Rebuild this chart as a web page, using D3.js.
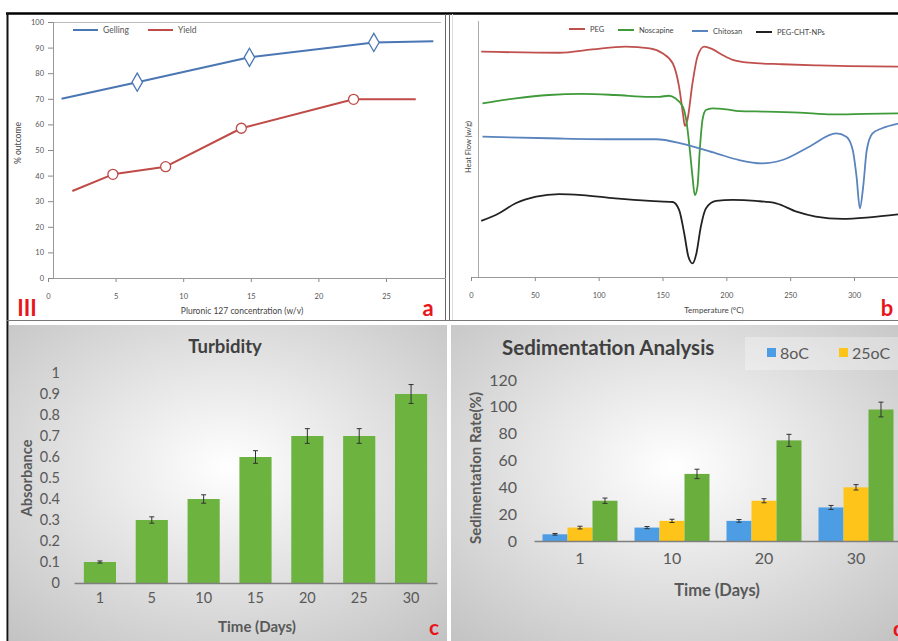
<!DOCTYPE html>
<html><head><meta charset="utf-8">
<script src="https://cdn.jsdelivr.net/npm/d3@7"></script>
<style>
body{margin:0;background:#fff;}
svg{display:block;font-family:Lato,"Open Sans",sans-serif;}
</style></head><body>
<script>
// ---- panel a : gelling / yield vs pluronic concentration
const gelX = [1.0, 6.6, 14.9, 24.1, 28.5];
const gelY = [70, 76.5, 86.2, 92, 92.5];
const yieldX = [1.8, 4.8, 8.7, 14.3, 22.6, 27.2];
const yieldY = [34, 40.5, 43.5, 58.5, 69.8, 69.8];
const concTicks = [0, 5, 10, 15, 20, 25];

// ---- panel b : DSC thermograms (arbitrary heat flow units)
const pegT = [8, 69, 95, 121, 140, 150, 158, 163, 166, 167.5, 169.5, 173.5, 177.4, 182.6, 189, 197, 205, 218, 244, 270, 296, 335];
const pegH = [88, 87.6, 88.9, 90, 89.3, 87.4, 83.5, 74.3, 63.9, 59, 61.3, 75.7, 86.1, 90, 89, 86.7, 84.8, 83.7, 83.1, 82.7, 82.4, 82.2];
const nosT = [9, 35, 61, 87, 113, 140, 147, 155, 160, 166, 169, 171.4, 173.5, 175.3, 177.4, 179.2, 181.3, 184, 189, 200, 210, 231, 257, 283, 309, 335];
const nosH = [67.8, 69.8, 71.1, 71.5, 71.1, 70.4, 70.4, 70.8, 69.8, 66.5, 60, 49.6, 39.2, 32, 35.3, 49.6, 61.3, 65.2, 65.9, 65.5, 64.8, 64.6, 64.2, 63.5, 63.7, 63.9];
const chiT = [9, 61, 113, 145, 166, 192, 210, 228, 244, 265, 286, 294, 299, 302, 304.6, 307.2, 310, 314.5, 322, 335];
const chiH = [54.8, 54.2, 53.8, 53.8, 52, 48.3, 45.7, 44.4, 45.7, 50.9, 56.1, 54.8, 49.6, 39.2, 26.8, 35.3, 49.6, 56.1, 58.1, 60];
const npT = [8, 22, 35, 51, 69, 87, 113, 140, 158, 163, 167, 170.3, 173.5, 176.6, 180, 184, 192, 205, 223, 239, 255, 270, 291, 312, 335];
const npH = [21.9, 24.9, 28.8, 31.4, 32.4, 32, 30.7, 29.7, 29.3, 26.2, 17.1, 7.9, 5.3, 9.3, 19.6, 26.8, 29.7, 30.1, 29.7, 28.8, 25.5, 23.6, 22.7, 23.3, 24.5];
const dscNames = ["PEG", "Noscapine", "Chitosan", "PEG-CHT-NPs"];
const tempTicks = [0, 50, 100, 150, 200, 250, 300, 350];

// ---- panel c : turbidity
const turbDays = ["1", "5", "10", "15", "20", "25", "30"];
const turbAbs = [0.1, 0.3, 0.4, 0.6, 0.7, 0.7, 0.9];
const turbErr = [0.005, 0.015, 0.02, 0.03, 0.035, 0.035, 0.045];
const turbTicks = [0, 0.1, 0.2, 0.3, 0.4, 0.5, 0.6, 0.7, 0.8, 0.9, 1];

// ---- panel d : sedimentation
const sedDays = ["1", "10", "20", "30"];
const sedNames = ["8oC", "25oC", "37oC"];
const sed8 = [5, 10, 15, 25];
const sed25 = [10, 15, 30, 40];
const sed37 = [30, 50, 75, 98];
const err8 = [0.6, 0.8, 1, 1.5];
const err25 = [1, 1.2, 1.5, 2];
const err37 = [2, 3.5, 4.5, 5.5];
const sedTicks = [0, 20, 40, 60, 80, 100, 120];

const W = 898, H = 641;
const svg = d3.select("body").append("svg").attr("width", W).attr("height", H);
svg.append("rect").attr("width", W).attr("height", H).attr("fill", "#fff");

// background gradient for lower panels
const defs = svg.append("defs");
const rg = defs.append("radialGradient").attr("id", "bg").attr("cx", "50%").attr("cy", "45%").attr("r", "75%");
rg.append("stop").attr("offset", "0%").attr("stop-color", "#ffffff");
rg.append("stop").attr("offset", "100%").attr("stop-color", "#c2c2c2");

svg.append("rect").attr("x", 9).attr("y", 325).attr("width", 438).attr("height", 316).attr("fill", "url(#bg)");
svg.append("rect").attr("x", 451).attr("y", 325).attr("width", 447).attr("height", 316).attr("fill", "url(#bg)");

// frame lines
svg.append("line").attr("x1", 6).attr("x2", W).attr("y1", 13.5).attr("y2", 13.5).attr("stroke", "#000").attr("stroke-width", 2.5);
svg.append("line").attr("x1", 7.5).attr("x2", 7.5).attr("y1", 13).attr("y2", H).attr("stroke", "#111").attr("stroke-width", 2);
svg.append("line").attr("x1", 7).attr("x2", W).attr("y1", 320.5).attr("y2", 320.5).attr("stroke", "#777").attr("stroke-width", 1);
svg.append("line").attr("x1", 445.5).attr("x2", 445.5).attr("y1", 14).attr("y2", 320).attr("stroke", "#666");
svg.append("line").attr("x1", 449.5).attr("x2", 449.5).attr("y1", 14).attr("y2", 320).attr("stroke", "#666");
svg.append("line").attr("x1", 452.5).attr("x2", 452.5).attr("y1", 14).attr("y2", 320).attr("stroke", "#ddd");

function label(g, x, y, txt, size, opts = {}) {
  const t = g.append("text").attr("x", x).attr("y", y).text(txt)
    .attr("font-size", size).attr("fill", opts.fill || "#444")
    .attr("text-anchor", opts.anchor || "middle")
    .attr("font-weight", opts.bold ? "bold" : "normal");
  if (opts.rotate) t.attr("transform", `rotate(-90,${x},${y})`);
  return t;
}

// ===== panel a
{
  const g = svg.append("g");
  const x = d3.scaleLinear().domain([0, 25]).range([48, 386]);
  const y = d3.scaleLinear().domain([0, 100]).range([278, 22]);

  g.append("line").attr("x1", 53).attr("x2", 441).attr("y1", 22.5).attr("y2", 22.5).attr("stroke", "#bbb");
  g.append("line").attr("x1", 53.5).attr("x2", 53.5).attr("y1", 22).attr("y2", 278).attr("stroke", "#999");

  const ya = g.append("g").attr("transform", "translate(53,0)")
    .call(d3.axisLeft(y).tickValues(d3.range(0, 101, 10)).tickSize(5).tickPadding(4));
  ya.select(".domain").remove();
  ya.selectAll("line").attr("stroke", "#888");
  ya.selectAll("text").attr("font-size", 7.5).attr("fill", "#555").attr("font-family", "Lato");

  const xa = g.append("g").attr("transform", "translate(0,278)")
    .call(d3.axisBottom(x).tickValues(concTicks).tickSize(4).tickPadding(12));
  xa.select(".domain").remove();
  xa.selectAll("line").attr("stroke", "#888");
  xa.selectAll("text").attr("font-size", 7.5).attr("fill", "#555").attr("font-family", "Lato");
  g.append("line").attr("x1", 53).attr("x2", 446).attr("y1", 278.5).attr("y2", 278.5).attr("stroke", "#999");

  const line = d3.line().x(d => x(d[0])).y(d => y(d[1]));
  const gel = gelX.map((v, i) => [v, gelY[i]]);
  const yld = yieldX.map((v, i) => [v, yieldY[i]]);
  g.append("path").datum(gel).attr("d", line).attr("fill", "none").attr("stroke", "#4a76b4").attr("stroke-width", 2).attr("stroke-linejoin", "round");
  g.append("path").datum(yld).attr("d", line).attr("fill", "none").attr("stroke", "#bf4b48").attr("stroke-width", 2).attr("stroke-linejoin", "round");

  g.selectAll(".dia").data(gel.slice(1, 4)).enter().append("path")
    .attr("d", d3.symbol().type(d3.symbolDiamond).size(95))
    .attr("transform", d => `translate(${x(d[0])},${y(d[1])})`)
    .attr("fill", "#fff").attr("stroke", "#4a76b4").attr("stroke-width", 1.3);
  g.selectAll(".cir").data(yld.slice(1, 5)).enter().append("circle")
    .attr("cx", d => x(d[0])).attr("cy", d => y(d[1])).attr("r", 5)
    .attr("fill", "#fff").attr("stroke", "#bf4b48").attr("stroke-width", 1.3);

  // legend
  g.append("line").attr("x1", 73).attr("x2", 98).attr("y1", 30).attr("y2", 30).attr("stroke", "#4a76b4").attr("stroke-width", 2);
  label(g, 103, 33, "Gelling", 8.5, { anchor: "start", fill: "#555" });
  g.append("line").attr("x1", 148).attr("x2", 173).attr("y1", 30).attr("y2", 30).attr("stroke", "#bf4b48").attr("stroke-width", 2);
  label(g, 178, 33, "Yield", 8.5, { anchor: "start", fill: "#555" });

  label(g, 242, 314, "Pluronic 127 concentration (w/v)", 8.5, { fill: "#444" });
  label(g, 21, 143, "% outcome", 8.5, { rotate: true, fill: "#444" });
  label(g, 27, 316, "III", 22, { fill: "#e8141c", bold: true });
  label(g, 428, 316, "a", 22, { fill: "#e8141c", bold: true });
}

// ===== panel b
{
  const g = svg.append("g");
  const x = d3.scaleLinear().domain([0, 300]).range([471, 854]);
  const y = d3.scaleLinear().domain([0, 100]).range([277, 21]);

  g.append("line").attr("x1", 478.5).attr("x2", 478.5).attr("y1", 21).attr("y2", 277).attr("stroke", "#aaa");
  const xa = g.append("g").attr("transform", "translate(0,277)")
    .call(d3.axisBottom(x).tickValues(tempTicks).tickSize(4).tickPadding(12));
  xa.select(".domain").remove();
  xa.selectAll("line").attr("stroke", "#888");
  xa.selectAll("text").attr("font-size", 7.5).attr("fill", "#555").attr("font-family", "Lato");
  g.append("line").attr("x1", 472).attr("x2", W).attr("y1", 277.5).attr("y2", 277.5).attr("stroke", "#999");

  const series = [[pegT, pegH, "#c0504d"], [nosT, nosH, "#3f9a3a"], [chiT, chiH, "#5a84bd"], [npT, npH, "#222"]];
  const line = d3.line().x(d => x(d[0])).y(d => y(d[1])).curve(d3.curveMonotoneX);
  series.forEach(s => {
    const pts = s[0].map((v, i) => [v, s[1][i]]);
    g.append("path").datum(pts).attr("d", line).attr("fill", "none").attr("stroke", s[2]).attr("stroke-width", 1.8);
  });

  // legend
  const lx = [569, 618, 692, 756];
  const ly = [29, 30, 31, 32];
  dscNames.forEach((n, i) => {
    g.append("line").attr("x1", lx[i]).attr("x2", lx[i] + 16).attr("y1", ly[i]).attr("y2", ly[i])
      .attr("stroke", series[i][2]).attr("stroke-width", 2);
    label(g, lx[i] + 21, ly[i] + 3, n, 7.5, { anchor: "start", fill: "#444" });
  });

  label(g, 714, 313, "Temperature (\u00B0C)", 8, { fill: "#444" });
  label(g, 471, 147, "Heat Flow (w/g)", 7.5, { rotate: true, fill: "#444" });
  label(g, 887, 316, "b", 22, { fill: "#e8141c", bold: true });
}

// ===== panel c
{
  const g = svg.append("g");
  const x = d3.scaleBand().domain(turbDays).range([74, 437]).paddingInner(0.38).paddingOuter(0.19);
  const y = d3.scaleLinear().domain([0, 1]).range([583, 373]);

  const ya = g.append("g").attr("transform", "translate(64,0)")
    .call(d3.axisLeft(y).tickValues(turbTicks).tickSize(0).tickPadding(4).tickFormat(d3.format("~g")));
  ya.select(".domain").remove();
  ya.selectAll("text").attr("font-size", 14.5).attr("fill", "#595959").attr("font-family", "Lato");

  g.selectAll(".bar").data(turbAbs).enter().append("rect")
    .attr("x", (d, i) => x(turbDays[i])).attr("width", x.bandwidth())
    .attr("y", d => y(d)).attr("height", d => y(0) - y(d)).attr("fill", "#6db33f");

  const bx = i => x(turbDays[i]) + x.bandwidth() / 2;
  const eb = g.selectAll(".err").data(turbAbs).enter().append("g").attr("stroke", "#333").attr("stroke-width", 1);
  eb.append("line").attr("x1", (d, i) => bx(i)).attr("x2", (d, i) => bx(i))
    .attr("y1", (d, i) => y(d - turbErr[i])).attr("y2", (d, i) => y(d + turbErr[i]));
  eb.append("line").attr("x1", (d, i) => bx(i) - 2.5).attr("x2", (d, i) => bx(i) + 2.5)
    .attr("y1", (d, i) => y(d + turbErr[i])).attr("y2", (d, i) => y(d + turbErr[i]));
  eb.append("line").attr("x1", (d, i) => bx(i) - 2.5).attr("x2", (d, i) => bx(i) + 2.5)
    .attr("y1", (d, i) => y(d - turbErr[i])).attr("y2", (d, i) => y(d - turbErr[i]));

  const xa = g.append("g").attr("transform", "translate(0,583)")
    .call(d3.axisBottom(x).tickSize(0).tickPadding(10));
  xa.select(".domain").attr("stroke", "#7f7f7f").attr("stroke-width", 1.3);
  xa.selectAll("text").attr("font-size", 14.5).attr("fill", "#595959").attr("font-family", "Lato");

  label(g, 225, 353, "Turbidity", 18.5, { bold: true, fill: "#404040" });
  label(g, 32, 478, "Absorbance", 14.5, { bold: true, rotate: true, fill: "#595959" });
  label(g, 257, 632, "Time (Days)", 15, { bold: true, fill: "#595959" });
  label(g, 434, 635, "c", 21, { fill: "#e8141c", bold: true });
}

// ===== panel d
{
  const g = svg.append("g");
  const x0 = d3.scaleBand().domain(sedDays).range([534, 902]).paddingInner(0.185).paddingOuter(0.0925);
  const x1 = d3.scaleBand().domain(sedNames).range([0, x0.bandwidth()]);
  const y = d3.scaleLinear().domain([0, 120]).range([541, 380]);
  const colors = ["#4c9de4", "#ffc419", "#6aae3e"];
  const vals = [sed8, sed25, sed37];
  const errs = [err8, err25, err37];

  const ya = g.append("g").attr("transform", "translate(521,0)")
    .call(d3.axisLeft(y).tickValues(sedTicks).tickSize(0).tickPadding(4));
  ya.select(".domain").remove();
  ya.selectAll("text").attr("font-size", 16).attr("fill", "#595959").attr("font-family", "Lato");

  const rows = [];
  sedDays.forEach((day, i) => sedNames.forEach((n, j) => rows.push({ day, n, j, v: vals[j][i], e: errs[j][i] })));
  g.selectAll(".bar").data(rows).enter().append("rect")
    .attr("x", d => x0(d.day) + x1(d.n)).attr("width", x1.bandwidth())
    .attr("y", d => y(d.v)).attr("height", d => y(0) - y(d.v)).attr("fill", d => colors[d.j]);

  const cx = d => x0(d.day) + x1(d.n) + x1.bandwidth() / 2;
  const eb = g.selectAll(".err").data(rows).enter().append("g").attr("stroke", "#333").attr("stroke-width", 1);
  eb.append("line").attr("x1", cx).attr("x2", cx).attr("y1", d => y(d.v - d.e)).attr("y2", d => y(d.v + d.e));
  eb.append("line").attr("x1", d => cx(d) - 2.5).attr("x2", d => cx(d) + 2.5).attr("y1", d => y(d.v + d.e)).attr("y2", d => y(d.v + d.e));
  eb.append("line").attr("x1", d => cx(d) - 2.5).attr("x2", d => cx(d) + 2.5).attr("y1", d => y(d.v - d.e)).attr("y2", d => y(d.v - d.e));

  const xa = g.append("g").attr("transform", "translate(0,541)")
    .call(d3.axisBottom(x0).tickSize(0).tickPadding(12));
  xa.select(".domain").attr("stroke", "#7f7f7f").attr("stroke-width", 1.3);
  xa.selectAll("text").attr("font-size", 16).attr("fill", "#595959").attr("font-family", "Lato");

  label(g, 502, 355, "Sedimentation Analysis", 20.5, { bold: true, anchor: "start", fill: "#404040" });
  label(g, 481, 468, "Sedimentation Rate(%)", 15, { bold: true, rotate: true, fill: "#595959" });
  label(g, 717, 596, "Time (Days)", 16.5, { bold: true, fill: "#595959" });
  label(g, 893, 636, "d", 21, { fill: "#e8141c", bold: true, anchor: "start" });

  // legend
  g.append("rect").attr("x", 745).attr("y", 337).attr("width", 160).attr("height", 33).attr("fill", "#fff").attr("opacity", 0.3);
  const lgx = [767, 839, 911];
  sedNames.forEach((n, i) => {
    g.append("rect").attr("x", lgx[i]).attr("y", 348).attr("width", 9).attr("height", 9).attr("fill", colors[i]);
    label(g, lgx[i] + 13, 359, n, 16, { anchor: "start", fill: "#595959" });
  });
}
</script>
</body></html>
